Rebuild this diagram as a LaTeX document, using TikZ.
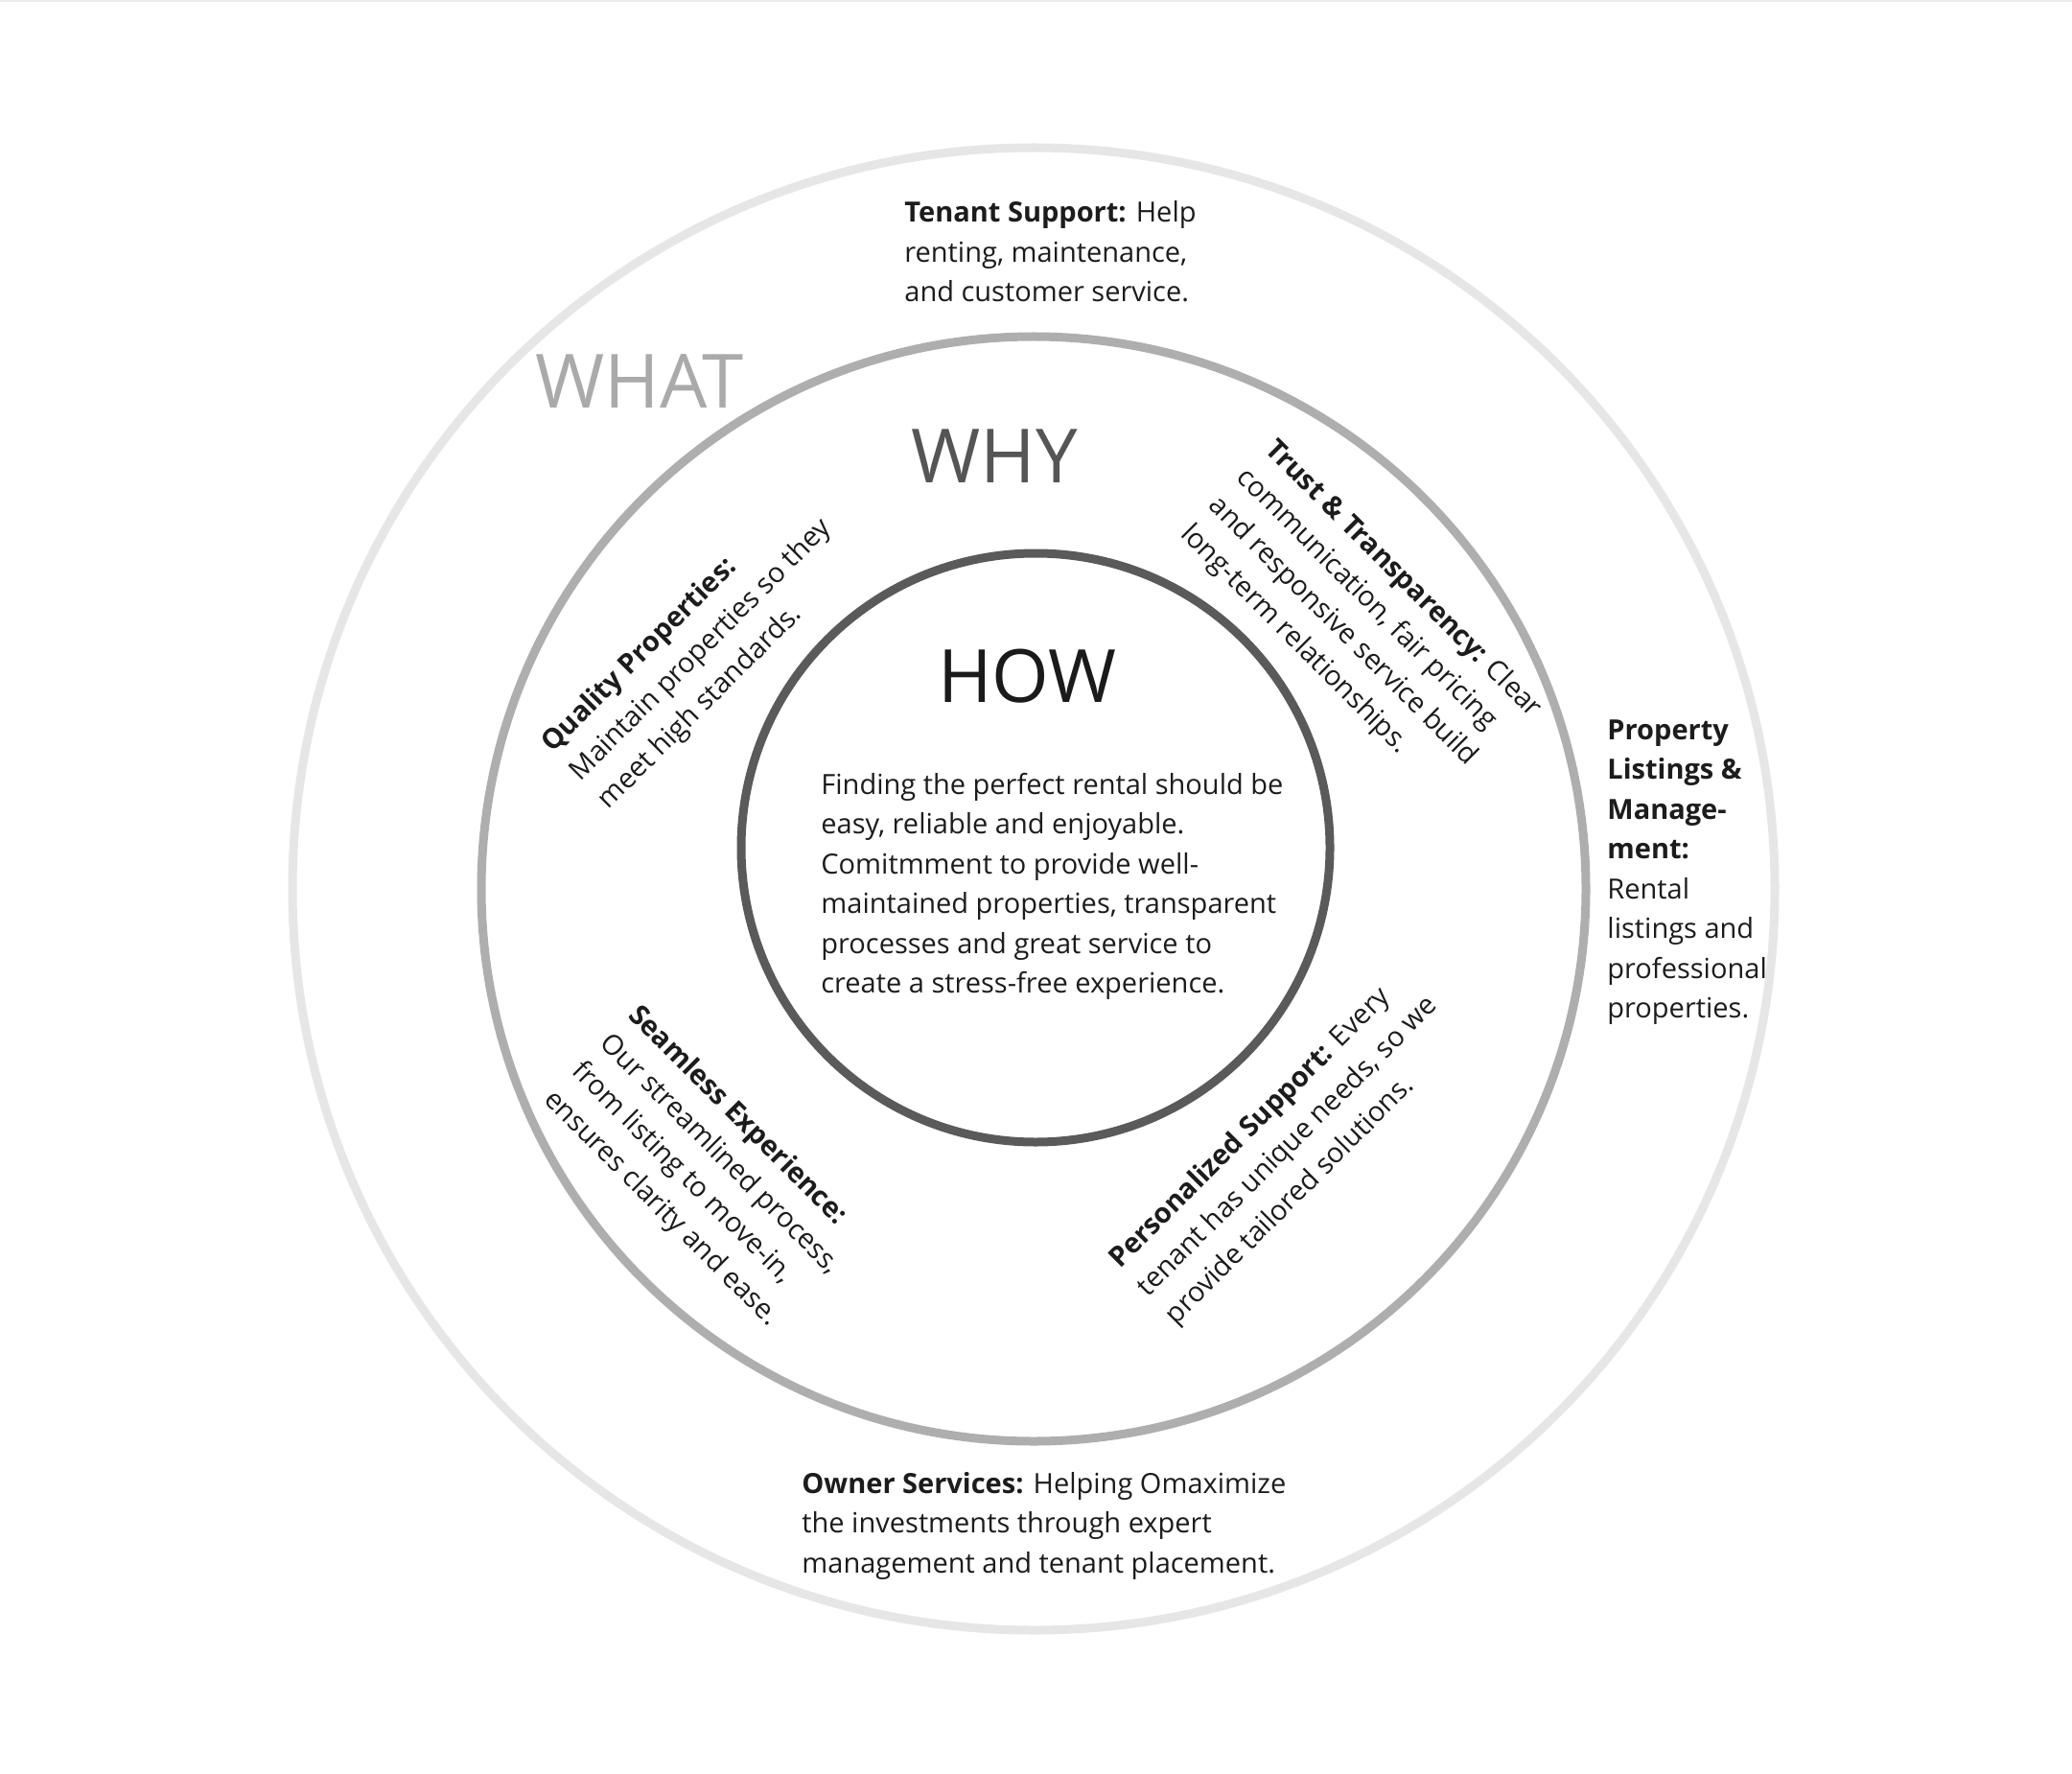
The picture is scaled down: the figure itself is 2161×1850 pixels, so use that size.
\documentclass[tikz,border=0pt]{standalone}
\usepackage{fontspec}
\setmainfont{Open Sans}
\definecolor{ink}{HTML}{1C1C1C}
\definecolor{ringout}{HTML}{E6E6E6}
\definecolor{ringmid}{HTML}{AEAEAE}
\definecolor{ringin}{HTML}{5A5A5A}
\definecolor{whatc}{HTML}{AAAAAA}
\definecolor{whyc}{HTML}{555555}
\definecolor{howc}{HTML}{1A1A1A}
\newcommand\blk[1]{\vtop{#1}}
\begin{document}
\begin{tikzpicture}[x=0.5pt,y=-0.5pt,
  ring/.style={line width=4.5pt},
  txt/.style={inner sep=0pt, anchor=base west, text=ink, font=\fontsize{14.5pt}{20.75pt}\selectfont},
  big/.style={inner sep=0pt, anchor=base west, font=\fontsize{39pt}{40pt}\selectfont}]
\useasboundingbox[fill=white] (0,0) rectangle (2161,1850);
\draw[gray!15, line width=0.8pt] (0,1) -- (2161,1);
% rings
\coordinate (co) at (1078,927);
\coordinate (ci) at (1080,884);
\draw[ring, ringout] (co) circle (773);
\draw[ring, ringmid] (co) circle (576);
\draw[ring, ringin] (ci) circle (307);
% titles
\node[big, text=whatc] (what) at (558,426) {WHAT};
\node[big, text=whyc] (why) at (950,503) {WHY};
\node[big, text=howc, font=\fontsize{38.3pt}{40pt}\selectfont] (how) at (978,732) {HOW};
% centre text
\node[txt] (core) at (856,828) {\blk{\hbox{Finding the perfect rental should be}\hbox{easy, reliable and enjoyable.}\hbox{Comitmment to provide well-}\hbox{maintained properties, transparent}\hbox{processes and great service to}\hbox{create a stress-free experience.}}};
% WHAT ring texts
\node[txt] (tenant) at (943,232) {\blk{\hbox{\textbf{Tenant Support:} Help}\hbox{renting, maintenance,}\hbox{and customer service.}}};
\node[txt] (listings) at (1676,771) {\blk{\hbox{\textbf{Property}}\hbox{\textbf{Listings \&}}\hbox{\textbf{Manage-}}\hbox{\textbf{ment:}}\hbox{Rental}\hbox{listings and}\hbox{professional}\hbox{properties.}}};
\node[txt] (owner) at (836,1557) {\blk{\hbox{\textbf{Owner Services:} Helping Omaximize}\hbox{the investments through expert}\hbox{management and tenant placement.}}};
% WHY ring texts
\node[txt, rotate=45] (quality) at (576,786) {\blk{\hbox{\textbf{Quality Properties:}}\hbox{Maintain properties so they}\hbox{meet high standards.}}};
\node[txt, rotate=-45] (trust) at (1318,470) {\blk{\hbox{\textbf{Trust \& Transparency:} Clear}\hbox{communication, fair pricing}\hbox{and responsive service build}\hbox{long-term relationships.}}};
\node[txt, rotate=-45] (seamless) at (654,1060) {\blk{\hbox{\textbf{Seamless Experience:}}\hbox{Our streamlined process,}\hbox{from listing to move-in,}\hbox{ensures clarity and ease.}}};
\node[txt, rotate=45] (personal) at (1168,1324) {\blk{\hbox{\textbf{Personalized Support:} Every}\hbox{tenant has unique needs, so we}\hbox{provide tailored solutions.}}};
\end{tikzpicture}
\end{document}
